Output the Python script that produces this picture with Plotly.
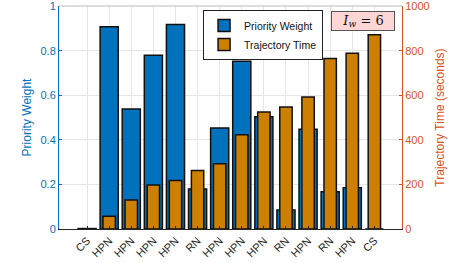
import plotly.graph_objects as go

categories = ["CS", "HPN", "HPN", "HPN", "HPN", "RN", "HPN", "HPN", "HPN", "RN", "HPN", "RN", "HPN", "CS"]
priority_weight = [0.002, 0.907, 0.538, 0.78, 0.918, 0.179, 0.453, 0.753, 0.504, 0.085, 0.447, 0.167, 0.185, 0.0]
trajectory_time = [0, 57, 130, 197, 218, 263, 293, 423, 525, 547, 592, 765, 789, 871]
left_ticks = [0, 0.2, 0.4, 0.6, 0.8, 1]
right_ticks = [0, 200, 400, 600, 800, 1000]

BLUE = "#0072BD"
ORANGE_BAR = "#CC7F00"
ORANGE_AX = "#D95319"

xs = list(range(1, len(categories) + 1))

fig = go.Figure()
fig.add_trace(go.Bar(x=xs, y=priority_weight, width=0.82, name="Priority Weight",
                     marker=dict(color=BLUE, line=dict(color="#111111", width=1.5)),
                     yaxis="y"))
fig.add_trace(go.Bar(x=xs, y=trajectory_time, width=0.56, name="Trajectory Time",
                     marker=dict(color=ORANGE_BAR, line=dict(color="#111111", width=1.5)),
                     yaxis="y2"))

font = "Liberation Sans, Arial, sans-serif"
fig.update_layout(
    width=457, height=263,
    margin=dict(l=59, r=55, t=6, b=34, autoexpand=False),
    paper_bgcolor="white", plot_bgcolor="white",
    barmode="overlay",
    font=dict(family=font, size=11, color="#262626"),
    showlegend=True,
    legend=dict(x=0.42, y=0.982, xanchor="left", yanchor="top",
                bgcolor="white", bordercolor="#222222", borderwidth=1,
                font=dict(size=10.5, color="#111111"),
                tracegroupgap=0, itemwidth=30),
    xaxis=dict(range=[-0.27, 15.25], tickvals=xs, ticktext=categories,
               tickangle=-45, showgrid=True, gridcolor="#E6E6E6", gridwidth=1,
               showline=True, linecolor="#262626", linewidth=1,
               ticks="inside", ticklen=3, tickcolor="#262626", automargin=False,
               ticklabeloverflow="allow",
               tickfont=dict(size=11, color="#262626"), zeroline=False, fixedrange=True),
    yaxis=dict(range=[0, 1.0005], tickvals=left_ticks, ticktext=["0", "0.2", "0.4", "0.6", "0.8", "1"],
               showgrid=True, gridcolor="#E6E6E6", zeroline=False, automargin=False,
               showline=True, linecolor=BLUE, linewidth=1, ticklabeloverflow="allow",
               ticks="inside", ticklen=3, tickcolor=BLUE,
               tickfont=dict(size=11, color=BLUE),
               title=dict(text="Priority Weight", font=dict(size=12, color=BLUE), standoff=6)),
    yaxis2=dict(range=[0, 1000.5], tickvals=right_ticks, overlaying="y", side="right",
                showgrid=False, zeroline=False, automargin=False, ticklabeloverflow="allow",
                showline=True, linecolor=ORANGE_AX, linewidth=1,
                ticks="inside", ticklen=3, tickcolor=ORANGE_AX,
                tickfont=dict(size=11, color=ORANGE_AX),
                title=dict(text="Trajectory Time (seconds)", font=dict(size=12, color=ORANGE_AX), standoff=6)),
    shapes=[dict(type="line", xref="paper", yref="paper", x0=0, x1=1, y0=1, y1=1,
                 line=dict(color="#BBBBBB", width=1))],
    annotations=[dict(xref="paper", yref="paper", x=0.886, y=0.934, xanchor="center", yanchor="middle",
                      text="<i>I</i><sub><i>w</i></sub> = 6", showarrow=False,
                      font=dict(family="DejaVu Serif, Liberation Serif, serif", size=13, color="#111111"),
                      bgcolor="#FFD6D6", bordercolor="#555555", borderwidth=1, borderpad=2,
                      width=58, height=14)],
)

fig.write_html("out.html", config={"displayModeBar": False, "staticPlot": True},
               post_script="document.body.style.margin='0';document.body.style.overflow='hidden';")
